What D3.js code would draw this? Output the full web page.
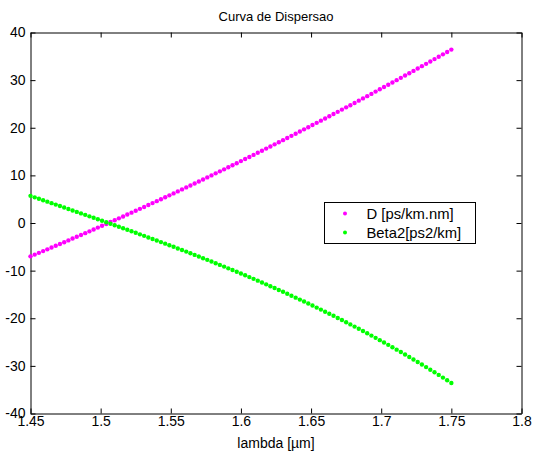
<!DOCTYPE html>
<html>
<head>
<meta charset="utf-8">
<script src="https://cdn.jsdelivr.net/npm/d3@7"></script>
<style>
  html, body { margin: 0; padding: 0; background: #ffffff; }
  svg { display: block; }
  text { font-family: "Liberation Sans", Arial, Helvetica, sans-serif; fill: #000; }
</style>
</head>
<body>
<script>
// ---- data ----
const lambda = [
  1.450,1.453,1.456,1.459,1.462,1.465,1.468,1.471,1.474,1.477,
  1.480,1.483,1.486,1.489,1.492,1.495,1.498,1.501,1.504,1.507,
  1.510,1.513,1.516,1.519,1.522,1.525,1.528,1.531,1.534,1.537,
  1.540,1.543,1.546,1.549,1.552,1.555,1.558,1.561,1.564,1.567,
  1.570,1.573,1.576,1.579,1.582,1.585,1.588,1.591,1.594,1.597,
  1.600,1.603,1.606,1.609,1.612,1.615,1.618,1.621,1.624,1.627,
  1.630,1.633,1.636,1.639,1.642,1.645,1.648,1.651,1.654,1.657,
  1.660,1.663,1.666,1.669,1.672,1.675,1.678,1.681,1.684,1.687,
  1.690,1.693,1.696,1.699,1.702,1.705,1.708,1.711,1.714,1.717,
  1.720,1.723,1.726,1.729,1.732,1.735,1.738,1.741,1.744,1.747,
  1.750
];
const dispersionD = [
  -7.00,-6.63,-6.27,-5.90,-5.53,-5.15,-4.78,-4.41,-4.03,-3.65,
  -3.27,-2.89,-2.51,-2.13,-1.75,-1.36,-0.97,-0.59,-0.20,0.20,
  0.59,0.98,1.38,1.77,2.17,2.57,2.97,3.37,3.78,4.18,
  4.59,4.99,5.40,5.81,6.22,6.64,7.05,7.47,7.88,8.30,
  8.72,9.14,9.57,9.99,10.42,10.84,11.27,11.70,12.13,12.56,
  13.00,13.43,13.87,14.30,14.74,15.18,15.62,16.07,16.51,16.96,
  17.40,17.85,18.30,18.75,19.21,19.66,20.12,20.57,21.03,21.49,
  21.95,22.41,22.88,23.34,23.81,24.28,24.74,25.21,25.69,26.16,
  26.63,27.11,27.59,28.07,28.55,29.03,29.51,29.99,30.48,30.97,
  31.45,31.94,32.43,32.93,33.42,33.91,34.41,34.91,35.41,35.91,
  36.41
];
const beta2 = [
  5.70,5.39,5.09,4.78,4.48,4.17,3.86,3.56,3.25,2.94,
  2.64,2.33,2.02,1.71,1.40,1.09,0.78,0.47,0.16,-0.16,
  -0.47,-0.79,-1.10,-1.42,-1.74,-2.06,-2.38,-2.70,-3.03,-3.35,
  -3.68,-4.01,-4.34,-4.67,-5.00,-5.34,-5.67,-6.01,-6.35,-6.70,
  -7.04,-7.39,-7.74,-8.09,-8.44,-8.80,-9.16,-9.52,-9.88,-10.25,
  -10.61,-10.98,-11.36,-11.73,-12.11,-12.50,-12.88,-13.27,-13.66,-14.06,
  -14.45,-14.85,-15.26,-15.67,-16.08,-16.49,-16.91,-17.33,-17.76,-18.18,
  -18.62,-19.05,-19.49,-19.94,-20.38,-20.84,-21.29,-21.75,-22.22,-22.69,
  -23.16,-23.64,-24.12,-24.60,-25.09,-25.59,-26.09,-26.59,-27.10,-27.61,
  -28.13,-28.66,-29.19,-29.72,-30.26,-30.80,-31.35,-31.90,-32.46,-33.03,
  -33.60
];
const xTicks = [1.45, 1.5, 1.55, 1.6, 1.65, 1.7, 1.75, 1.8];
const yTicks = [-40, -30, -20, -10, 0, 10, 20, 30, 40];
const seriesNames = ["D [ps/km.nm]", "Beta2[ps2/km]"];
const seriesColors = ["#ff00ff", "#00ff00"];
const titleText = "Curva de Dispersao";
const xLabelText = "lambda [\u00b5m]";

// ---- layout ----
const W = 535, H = 457;
const plot = { left: 30.5, right: 521.5, top: 32.5, bottom: 413.5 };

const svg = d3.select("body").append("svg")
  .attr("width", W).attr("height", H);

svg.append("rect").attr("width", W).attr("height", H).attr("fill", "#fff");

const x = d3.scaleLinear().domain([1.45, 1.8]).range([plot.left, plot.right]);
const y = d3.scaleLinear().domain([-40, 40]).range([plot.bottom, plot.top]);

const tickFont = 14;

// axes
const gBottom = svg.append("g").attr("transform", `translate(0,${plot.bottom})`)
  .call(d3.axisBottom(x).tickValues(xTicks).tickSizeInner(-5).tickSizeOuter(0)
    .tickPadding(3).tickFormat(d => String(d)));
const gTop = svg.append("g").attr("transform", `translate(0,${plot.top})`)
  .call(d3.axisTop(x).tickValues(xTicks).tickSizeInner(-5).tickSizeOuter(0).tickFormat(""));
const gLeft = svg.append("g").attr("transform", `translate(${plot.left},0)`)
  .call(d3.axisLeft(y).tickValues(yTicks).tickSizeInner(-5).tickSizeOuter(0)
    .tickPadding(5).tickFormat(d => String(d)));
const gRight = svg.append("g").attr("transform", `translate(${plot.right},0)`)
  .call(d3.axisRight(y).tickValues(yTicks).tickSizeInner(-5).tickSizeOuter(0).tickFormat(""));

[gBottom, gTop, gLeft, gRight].forEach(g => {
  g.selectAll("path.domain").attr("stroke", "#000").attr("stroke-width", 1);
  g.selectAll(".tick line").attr("stroke", "#000").attr("stroke-width", 1);
  g.selectAll("text").attr("font-size", tickFont)
    .attr("font-family", "'Liberation Sans', Arial, sans-serif").attr("fill", "#000");
});

// data points
const series = [dispersionD, beta2];
series.forEach((vals, si) => {
  svg.append("g").selectAll("circle")
    .data(lambda.map((l, i) => [l, vals[i]]))
    .join("circle")
    .attr("cx", d => x(d[0]))
    .attr("cy", d => y(d[1]))
    .attr("r", 2.2)
    .attr("fill", seriesColors[si]);
});

// title and x label
svg.append("text").attr("x", (plot.left + plot.right) / 2).attr("y", 21)
  .attr("text-anchor", "middle").attr("font-size", 13).text(titleText);
svg.append("text").attr("x", (plot.left + plot.right) / 2).attr("y", 448)
  .attr("text-anchor", "middle").attr("font-size", 14).text(xLabelText);

// legend
const lg = svg.append("g");
lg.append("rect").attr("x", 324.5).attr("y", 202.5).attr("width", 151).attr("height", 41)
  .attr("fill", "#fff").attr("stroke", "#000").attr("stroke-width", 1);
seriesNames.forEach((name, i) => {
  const cy = 213.5 + i * 19;
  lg.append("circle").attr("cx", 345).attr("cy", cy).attr("r", 2).attr("fill", seriesColors[i]);
  lg.append("text").attr("x", 366.5).attr("y", cy + 5).attr("font-size", 14.8).text(name);
});
</script>
</body>
</html>
